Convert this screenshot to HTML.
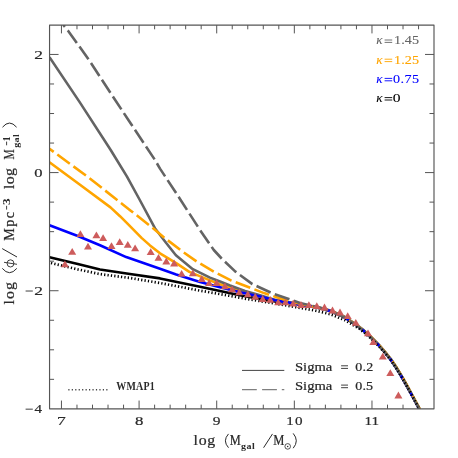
<!DOCTYPE html><html><head><meta charset="utf-8"><style>html,body{margin:0;padding:0;background:#fff}svg{display:block;will-change:transform}text{font-family:"Liberation Serif",serif;fill:#222}.s{font-family:"Liberation Sans",sans-serif}</style></head><body>
<svg width="458" height="458" viewBox="0 0 458 458">
<rect width="458" height="458" fill="#fff"/>
<defs><clipPath id="c"><rect x="49.5" y="25.0" width="384.5" height="384.0"/></clipPath></defs>
<g clip-path="url(#c)" fill="none" stroke-linejoin="round">
<path d="M49.5,257.2 L77.8,264.1 L100.0,269.5 L130.0,274.0 L160.0,278.4 L200.0,286.7 L220.0,290.9 L240.0,295.2 L260.0,299.0 L275.0,301.5 L290.0,302.9 L300.0,304.6 L310.0,306.2 L320.0,308.2 L330.0,311.0 L340.0,315.0 L345.0,317.6 L350.0,321.0 L357.0,325.8 L363.3,330.5 L370.0,336.5 L379.0,345.5 L385.0,352.5 L390.6,359.5 L396.0,367.5 L401.2,376.0 L406.0,384.5 L411.2,394.0 L415.5,402.0 L419.3,409.0" stroke="#000000" stroke-width="2.6"/>
<path d="M49.5,162.3 L80.0,184.7 L110.5,207.4 L120.0,216.2 L127.5,223.7 L141.8,238.1 L150.0,245.4 L160.0,253.3 L176.2,263.2 L189.3,271.9 L210.0,280.4 L220.0,284.3 L240.0,290.5 L260.0,296.2 L275.4,300.3 L290.4,302.9 L300.4,304.6 L310.4,306.2 L320.4,308.2 L330.4,311.0 L340.4,315.0 L345.4,317.6 L350.4,321.0 L357.4,325.8 L363.7,330.5 L370.4,336.5 L379.4,345.5 L385.4,352.5 L391.0,359.5 L396.4,367.5 L401.6,376.0 L406.4,384.5 L411.6,394.0 L415.9,402.0 L419.7,409.0" stroke="#ffa500" stroke-width="2.6"/>
<path d="M49.5,57.1 L80.0,102.6 L110.7,150.0 L127.0,176.6 L139.8,200.0 L154.9,228.2 L166.0,242.8 L175.9,255.2 L192.8,269.2 L210.0,277.6 L220.0,281.5 L230.0,285.5 L245.0,291.0 L260.0,295.2 L275.3,299.9 L290.3,302.5 L300.3,304.2 L310.3,305.8 L320.3,307.8 L330.3,310.6 L340.3,314.6 L345.3,317.2 L350.3,320.6 L357.3,325.4 L363.6,330.1 L370.3,336.1 L379.3,345.1 L385.3,352.1 L390.9,359.1 L396.3,367.1 L401.5,375.6 L406.3,384.1 L411.5,393.6 L415.8,401.6 L419.6,408.6" stroke="#646464" stroke-width="2.6"/>
<path d="M49.5,225.2 L77.8,236.0 L100.0,245.3 L126.2,257.1 L160.0,268.7 L176.2,274.5 L200.0,282.0 L220.0,287.2 L240.0,292.2 L260.0,296.6 L274.9,300.3 L289.9,302.9 L299.9,304.6 L309.9,306.2 L319.9,308.2 L329.9,311.0 L339.9,315.0 L344.9,317.6 L349.9,321.0 L356.9,325.8 L363.2,330.5 L369.9,336.5 L378.9,345.5 L384.9,352.5 L390.5,359.5 L395.9,367.5 L401.1,376.0 L405.9,384.5 L411.1,394.0 L415.4,402.0 L419.2,409.0" stroke="#0000ff" stroke-width="2.6"/>
<path d="M49.5,148.8 L88.7,177.6 L122.2,203.9 L130.4,210.4 L152.8,228.0 L164.4,237.7 L180.8,250.3 L196.5,261.4 L213.8,271.6 L231.4,280.6 L250.4,287.8 L264.0,293.1 L279.0,298.0 L290.0,301.3 L300.0,303.8 L310.4,306.2 L320.4,308.2 L330.4,311.0 L340.4,315.0 L345.4,317.6 L350.4,321.0 L357.4,325.8 L363.7,330.5 L370.4,336.5 L379.4,345.5 L385.4,352.5 L391.0,359.5 L396.4,367.5 L401.6,376.0 L406.4,384.5 L411.6,394.0 L415.9,402.0 L419.7,409.0" stroke="#ffa500" stroke-width="2.6" stroke-dasharray="15.5 4.5" stroke-dashoffset="10.3"/>
<path d="M63.3,25.0 L68.2,30.9 L88.9,59.8 L108.6,90.0 L128.4,120.0 L155.0,160.0 L160.0,168.6 L180.0,199.0 L200.0,230.0 L213.8,250.0 L221.6,258.5 L235.4,271.6 L252.4,284.1 L265.2,290.0 L274.0,294.0 L288.8,299.0 L300.0,302.9 L310.0,305.4 L320.0,307.8 L330.0,311.0 L340.0,315.0 L345.0,317.6 L350.0,321.0 L357.0,325.8 L363.3,330.5 L370.0,336.5 L379.0,345.5 L385.0,352.5 L390.6,359.5 L396.0,367.5 L401.2,376.0 L406.0,384.5 L411.2,394.0 L415.5,402.0 L419.3,409.0" stroke="#646464" stroke-width="2.6" stroke-dasharray="15.5 4.5" stroke-dashoffset="13.0"/>
<path d="M51.0,263.0 L77.8,269.4 L100.0,274.1 L130.0,278.0 L160.0,283.0 L200.0,290.6 L220.0,294.1 L250.0,299.5 L275.0,303.5 L300.0,307.9 L315.0,310.5 L330.1,314.2 L345.0,320.2 L360.0,329.2 L370.0,337.5 L379.0,346.3 L385.0,353.0 L390.6,359.8 L396.0,367.7 L401.2,376.1 L406.0,384.6 L411.2,394.1 L415.5,402.1 L419.2,409.0" stroke="#000000" stroke-width="2.7" stroke-dasharray="1.25 2.15"/>
</g>
<path d="M64.9,260.4 L68.9,267.2 L60.9,267.2Z" fill="#cd5c5c"/>
<path d="M72.2,247.9 L76.2,254.7 L68.2,254.7Z" fill="#cd5c5c"/>
<path d="M80.4,230.2 L84.4,237.0 L76.4,237.0Z" fill="#cd5c5c"/>
<path d="M88.0,242.7 L92.0,249.5 L84.0,249.5Z" fill="#cd5c5c"/>
<path d="M96.4,231.5 L100.4,238.3 L92.4,238.3Z" fill="#cd5c5c"/>
<path d="M103.1,234.2 L107.1,241.0 L99.1,241.0Z" fill="#cd5c5c"/>
<path d="M111.5,242.2 L115.5,249.0 L107.5,249.0Z" fill="#cd5c5c"/>
<path d="M119.7,238.3 L123.7,245.1 L115.7,245.1Z" fill="#cd5c5c"/>
<path d="M127.8,240.9 L131.8,247.7 L123.8,247.7Z" fill="#cd5c5c"/>
<path d="M135.1,244.4 L139.1,251.2 L131.1,251.2Z" fill="#cd5c5c"/>
<path d="M150.7,248.3 L154.7,255.1 L146.7,255.1Z" fill="#cd5c5c"/>
<path d="M158.5,254.0 L162.5,260.8 L154.5,260.8Z" fill="#cd5c5c"/>
<path d="M166.3,257.6 L170.3,264.4 L162.3,264.4Z" fill="#cd5c5c"/>
<path d="M174.1,259.6 L178.1,266.4 L170.1,266.4Z" fill="#cd5c5c"/>
<path d="M181.6,270.0 L185.6,276.8 L177.6,276.8Z" fill="#cd5c5c"/>
<path d="M192.8,269.4 L196.8,276.2 L188.8,276.2Z" fill="#cd5c5c"/>
<path d="M201.7,275.3 L205.7,282.1 L197.7,282.1Z" fill="#cd5c5c"/>
<path d="M209.1,279.2 L213.1,286.0 L205.1,286.0Z" fill="#cd5c5c"/>
<path d="M216.6,279.2 L220.6,286.0 L212.6,286.0Z" fill="#cd5c5c"/>
<path d="M224.9,282.5 L228.9,289.3 L220.9,289.3Z" fill="#cd5c5c"/>
<path d="M232.1,285.4 L236.1,292.2 L228.1,292.2Z" fill="#cd5c5c"/>
<path d="M239.3,288.4 L243.3,295.2 L235.3,295.2Z" fill="#cd5c5c"/>
<path d="M247.8,290.4 L251.8,297.2 L243.8,297.2Z" fill="#cd5c5c"/>
<path d="M255.2,293.0 L259.2,299.8 L251.2,299.8Z" fill="#cd5c5c"/>
<path d="M262.7,295.1 L266.7,301.9 L258.7,301.9Z" fill="#cd5c5c"/>
<path d="M270.3,296.0 L274.3,302.8 L266.3,302.8Z" fill="#cd5c5c"/>
<path d="M278.2,298.4 L282.2,305.2 L274.2,305.2Z" fill="#cd5c5c"/>
<path d="M285.4,298.5 L289.4,305.3 L281.4,305.3Z" fill="#cd5c5c"/>
<path d="M293.2,299.8 L297.2,306.6 L289.2,306.6Z" fill="#cd5c5c"/>
<path d="M301.0,301.1 L305.0,307.9 L297.0,307.9Z" fill="#cd5c5c"/>
<path d="M308.9,301.3 L312.9,308.1 L304.9,308.1Z" fill="#cd5c5c"/>
<path d="M316.8,302.3 L320.8,309.1 L312.8,309.1Z" fill="#cd5c5c"/>
<path d="M324.5,303.6 L328.5,310.4 L320.5,310.4Z" fill="#cd5c5c"/>
<path d="M332.5,306.6 L336.5,313.4 L328.5,313.4Z" fill="#cd5c5c"/>
<path d="M340.0,308.6 L344.0,315.4 L336.0,315.4Z" fill="#cd5c5c"/>
<path d="M347.7,312.2 L351.7,319.0 L343.7,319.0Z" fill="#cd5c5c"/>
<path d="M355.8,318.9 L359.8,325.7 L351.8,325.7Z" fill="#cd5c5c"/>
<path d="M368.0,329.4 L372.0,336.2 L364.0,336.2Z" fill="#cd5c5c"/>
<path d="M373.3,338.3 L377.3,345.1 L369.3,345.1Z" fill="#cd5c5c"/>
<path d="M382.8,352.7 L386.8,359.5 L378.8,359.5Z" fill="#cd5c5c"/>
<path d="M390.3,369.3 L394.3,376.1 L386.3,376.1Z" fill="#cd5c5c"/>
<path d="M398.4,391.6 L402.4,398.4 L394.4,398.4Z" fill="#cd5c5c"/>
<g stroke="#555555" fill="none">
<rect x="49.55" y="25.1" width="384.45" height="383.75" stroke-width="1.15" stroke-linejoin="round"/>
<path d="M61.45,25.1v8.3M61.45,408.85v-8.3M76.98,25.1v4.2M76.98,408.85v-4.2M92.50,25.1v4.2M92.50,408.85v-4.2M108.03,25.1v4.2M108.03,408.85v-4.2M123.55,25.1v4.2M123.55,408.85v-4.2M139.08,25.1v8.3M139.08,408.85v-8.3M154.61,25.1v4.2M154.61,408.85v-4.2M170.13,25.1v4.2M170.13,408.85v-4.2M185.66,25.1v4.2M185.66,408.85v-4.2M201.18,25.1v4.2M201.18,408.85v-4.2M216.71,25.1v8.3M216.71,408.85v-8.3M232.24,25.1v4.2M232.24,408.85v-4.2M247.76,25.1v4.2M247.76,408.85v-4.2M263.29,25.1v4.2M263.29,408.85v-4.2M278.81,25.1v4.2M278.81,408.85v-4.2M294.34,25.1v8.3M294.34,408.85v-8.3M309.87,25.1v4.2M309.87,408.85v-4.2M325.39,25.1v4.2M325.39,408.85v-4.2M340.92,25.1v4.2M340.92,408.85v-4.2M356.44,25.1v4.2M356.44,408.85v-4.2M371.97,25.1v8.3M371.97,408.85v-8.3M387.50,25.1v4.2M387.50,408.85v-4.2M403.02,25.1v4.2M403.02,408.85v-4.2M418.55,25.1v4.2M418.55,408.85v-4.2M49.55,379.33h4.5M434.0,379.33h-4.5M49.55,349.80h4.5M434.0,349.80h-4.5M49.55,320.26h4.5M434.0,320.26h-4.5M49.55,290.73h9.0M434.0,290.73h-9.0M49.55,261.19h4.5M434.0,261.19h-4.5M49.55,231.66h4.5M434.0,231.66h-4.5M49.55,202.12h4.5M434.0,202.12h-4.5M49.55,172.59h9.0M434.0,172.59h-9.0M49.55,143.06h4.5M434.0,143.06h-4.5M49.55,113.52h4.5M434.0,113.52h-4.5M49.55,83.98h4.5M434.0,83.98h-4.5M49.55,54.45h9.0M434.0,54.45h-9.0" stroke-width="1"/>
</g>
<text transform="translate(58.20,424.80) scale(1.2977,1)" x="-0.890" y="0" font-size="13.5" style="font-family:&quot;Liberation Serif&quot;;fill:#2a2a2a;stroke:#2a2a2a;stroke-width:0.22">7</text>
<text transform="translate(135.60,424.80) scale(1.2409,1)" x="-0.514" y="0" font-size="13.5" style="font-family:&quot;Liberation Serif&quot;;fill:#2a2a2a;stroke:#2a2a2a;stroke-width:0.22">8</text>
<text transform="translate(213.30,424.80) scale(1.1456,1)" x="-0.435" y="0" font-size="13.5" style="font-family:&quot;Liberation Serif&quot;;fill:#2a2a2a;stroke:#2a2a2a;stroke-width:0.22">9</text>
<text transform="translate(287.60,424.80) scale(1.1200,1)" x="-1.187" y="0" font-size="13.5" letter-spacing="0.969" style="font-family:&quot;Liberation Serif&quot;;fill:#2a2a2a;stroke:#2a2a2a;stroke-width:0.22">10</text>
<text transform="translate(365.70,424.80) scale(1.1200,1)" x="-1.187" y="0" font-size="13.5" letter-spacing="0.015" style="font-family:&quot;Liberation Serif&quot;;fill:#2a2a2a;stroke:#2a2a2a;stroke-width:0.22">11</text>
<text transform="translate(34.90,58.90) scale(1.2935,1)" x="-0.593" y="0" font-size="13.5" style="font-family:&quot;Liberation Serif&quot;;fill:#2a2a2a;stroke:#2a2a2a;stroke-width:0.22">2</text>
<text transform="translate(34.90,177.04) scale(1.2234,1)" x="-0.514" y="0" font-size="13.5" style="font-family:&quot;Liberation Serif&quot;;fill:#2a2a2a;stroke:#2a2a2a;stroke-width:0.22">0</text>
<text transform="translate(34.90,295.18) scale(1.2935,1)" x="-0.593" y="0" font-size="13.5" style="font-family:&quot;Liberation Serif&quot;;fill:#2a2a2a;stroke:#2a2a2a;stroke-width:0.22">2</text>
<path d="M25.6,291.03000000000003L32.8,291.03000000000003" stroke="#2a2a2a" stroke-width="0.9" fill="none"/>
<text transform="translate(34.90,413.32) scale(1.1155,1)" x="-0.264" y="0" font-size="13.5" style="font-family:&quot;Liberation Serif&quot;;fill:#2a2a2a;stroke:#2a2a2a;stroke-width:0.22">4</text>
<path d="M25.6,409.17L32.8,409.17" stroke="#2a2a2a" stroke-width="0.9" fill="none"/>
<text transform="translate(193.90,444.80) scale(1.1000,1)" x="-0.288" y="0" font-size="14.4" letter-spacing="0.626" style="font-family:&quot;Liberation Serif&quot;;fill:#2a2a2a;stroke:#2a2a2a;stroke-width:0.22">log</text>
<path d="M228.5,433.9Q222.3,440.79999999999995 228.5,447.7" stroke="#2a2a2a" stroke-width="1.0" fill="none"/>
<text transform="translate(230.10,444.80) scale(0.8728,1)" x="-0.409" y="0" font-size="14.2" style="font-family:&quot;Liberation Serif&quot;;fill:#2a2a2a;stroke:#2a2a2a;stroke-width:0.22">M</text>
<text transform="translate(241.30,449.00) scale(1.2200,1)" x="-0.216" y="0" font-size="8.2" font-weight="bold" letter-spacing="0.431" style="font-family:&quot;Liberation Serif&quot;;fill:#2a2a2a">gal</text>
<path d="M263.6,447.7L272.5,433.9" stroke="#2a2a2a" stroke-width="1.0" fill="none"/>
<text transform="translate(273.50,444.80) scale(0.8813,1)" x="-0.409" y="0" font-size="14.2" style="font-family:&quot;Liberation Serif&quot;;fill:#2a2a2a;stroke:#2a2a2a;stroke-width:0.22">M</text>
<circle cx="287.7" cy="446.4" r="2.8" fill="none" stroke="#2a2a2a" stroke-width="0.8"/><circle cx="287.7" cy="446.4" r="0.75" fill="#2a2a2a"/>
<path d="M293.2,433.4Q299.40000000000003,440.79999999999995 293.2,448.2" stroke="#2a2a2a" stroke-width="1.0" fill="none"/>
<text transform="translate(13.80,304.30) rotate(-90) scale(1.1000,1)" x="-0.288" y="0" font-size="14.4" letter-spacing="1.035" style="font-family:&quot;Liberation Serif&quot;;fill:#2a2a2a;stroke:#2a2a2a;stroke-width:0.22">log</text>
<path d="M2.3,268.4Q9.5,277.0 16.8,268.4" transform="translate(0,0)" stroke="#2a2a2a" stroke-width="1" fill="none"/>
<ellipse cx="10.5" cy="263.4" rx="3.4" ry="3.6" fill="none" stroke="#2a2a2a" stroke-width="0.9"/>
<path d="M17.0,264.3L4.0,262.3" stroke="#2a2a2a" stroke-width="0.9" fill="none"/>
<path d="M17.0,257.0L2.2,248.6" stroke="#2a2a2a" stroke-width="1.0" fill="none"/>
<text transform="translate(13.80,240.40) rotate(-90) scale(1.0000,1)" x="-0.409" y="0" font-size="14.2" letter-spacing="1.459" style="font-family:&quot;Liberation Serif&quot;;fill:#2a2a2a;stroke:#2a2a2a;stroke-width:0.22">Mpc</text>
<path d="M6.6,209.6L6.6,205.8" stroke="#2a2a2a" stroke-width="0.9" fill="none"/>
<text transform="translate(9.80,204.40) rotate(-90) scale(1.3582,1)" x="-0.368" y="0" font-size="9.8" font-weight="bold" style="font-family:&quot;Liberation Serif&quot;;fill:#2a2a2a">3</text>
<text transform="translate(13.80,188.60) rotate(-90) scale(1.1000,1)" x="-0.288" y="0" font-size="14.4" letter-spacing="0.217" style="font-family:&quot;Liberation Serif&quot;;fill:#2a2a2a;stroke:#2a2a2a;stroke-width:0.22">log</text>
<text transform="translate(13.80,159.30) rotate(-90) scale(0.8050,1)" x="-0.409" y="0" font-size="14.2" style="font-family:&quot;Liberation Serif&quot;;fill:#2a2a2a;stroke:#2a2a2a;stroke-width:0.22">M</text>
<text transform="translate(18.70,147.60) rotate(-90) scale(1.2200,1)" x="-0.216" y="0" font-size="8.2" font-weight="bold" letter-spacing="0.308" style="font-family:&quot;Liberation Serif&quot;;fill:#2a2a2a">gal</text>
<path d="M6.6,145.3L6.6,141.6" stroke="#2a2a2a" stroke-width="0.9" fill="none"/>
<text transform="translate(9.80,140.40) rotate(-90) scale(0.9701,1)" x="-0.785" y="0" font-size="9.8" font-weight="bold" style="font-family:&quot;Liberation Serif&quot;;fill:#2a2a2a">1</text>
<path d="M2.5,127.2Q9.5,118.9 16.6,127.2" stroke="#2a2a2a" stroke-width="1" fill="none"/>
<text transform="translate(376.80,44.40) scale(1.1011,1)" x="-0.439" y="0" font-size="12.0" font-style="italic" style="font-family:&quot;Liberation Serif&quot;;fill:#646464;stroke:#646464;stroke-width:0.1">κ</text>
<path d="M384.6,40.0H392.2M384.6,42.4H392.2" stroke="#646464" stroke-width="0.9" fill="none"/>
<text transform="translate(395.30,44.40) scale(1.2000,1)" x="-1.037" y="0" font-size="11.8" letter-spacing="0.060" style="font-family:&quot;Liberation Serif&quot;;fill:#646464;stroke:#646464;stroke-width:0.1">1.45</text>
<text transform="translate(376.80,63.60) scale(1.1011,1)" x="-0.439" y="0" font-size="12.0" font-style="italic" style="font-family:&quot;Liberation Serif&quot;;fill:#ffa500;stroke:#ffa500;stroke-width:0.1">κ</text>
<path d="M384.6,59.2H392.2M384.6,61.6H392.2" stroke="#ffa500" stroke-width="0.9" fill="none"/>
<text transform="translate(395.30,63.60) scale(1.2000,1)" x="-1.037" y="0" font-size="11.8" letter-spacing="0.060" style="font-family:&quot;Liberation Serif&quot;;fill:#ffa500;stroke:#ffa500;stroke-width:0.1">1.25</text>
<text transform="translate(376.80,82.80) scale(1.1011,1)" x="-0.439" y="0" font-size="12.0" font-style="italic" style="font-family:&quot;Liberation Serif&quot;;fill:#0000ff;stroke:#0000ff;stroke-width:0.1">κ</text>
<path d="M384.6,78.4H392.2M384.6,80.8H392.2" stroke="#0000ff" stroke-width="0.9" fill="none"/>
<text transform="translate(393.60,82.80) scale(1.2000,1)" x="-0.449" y="0" font-size="11.8" letter-spacing="0.337" style="font-family:&quot;Liberation Serif&quot;;fill:#0000ff;stroke:#0000ff;stroke-width:0.1">0.75</text>
<text transform="translate(376.80,102.00) scale(1.1011,1)" x="-0.439" y="0" font-size="12.0" font-style="italic" style="font-family:&quot;Liberation Serif&quot;;fill:#000000;stroke:#000000;stroke-width:0.1">κ</text>
<path d="M384.6,97.6H392.2M384.6,100.0H392.2" stroke="#000000" stroke-width="0.9" fill="none"/>
<text transform="translate(393.40,102.00) scale(1.3197,1)" x="-0.449" y="0" font-size="11.8" style="font-family:&quot;Liberation Serif&quot;;fill:#000000;stroke:#000000;stroke-width:0.1">0</text>
<path d="M242,370.4H284.3" stroke="#444" stroke-width="1"/>
<path d="M242,389.6H256.8M262.1,389.6H276.9M281.8,389.6H284.3" stroke="#808080" stroke-width="1.35"/>
<text transform="translate(295.90,370.70) scale(1.1600,1)" x="-0.843" y="0" font-size="12.6" letter-spacing="0.027" style="font-family:&quot;Liberation Serif&quot;;fill:#2a2a2a;stroke:#2a2a2a;stroke-width:0.22">Sigma</text>
<path d="M341.1,365.8H348M341.1,368.4H348" stroke="#2a2a2a" stroke-width="0.9" fill="none"/>
<text transform="translate(355.80,370.70) scale(1.1500,1)" x="-0.465" y="0" font-size="12.2" letter-spacing="0.205" style="font-family:&quot;Liberation Serif&quot;;fill:#2a2a2a;stroke:#2a2a2a;stroke-width:0.22">0.2</text>
<text transform="translate(295.90,390.00) scale(1.1600,1)" x="-0.843" y="0" font-size="12.6" letter-spacing="0.027" style="font-family:&quot;Liberation Serif&quot;;fill:#2a2a2a;stroke:#2a2a2a;stroke-width:0.22">Sigma</text>
<path d="M341.1,385.1H348M341.1,387.7H348" stroke="#2a2a2a" stroke-width="0.9" fill="none"/>
<text transform="translate(355.80,390.00) scale(1.1500,1)" x="-0.465" y="0" font-size="12.2" letter-spacing="0.106" style="font-family:&quot;Liberation Serif&quot;;fill:#2a2a2a;stroke:#2a2a2a;stroke-width:0.22">0.5</text>
<path d="M68.3,389.7H108.2" stroke="#444" stroke-width="1.5" stroke-dasharray="1.2 2.25"/>
<text transform="translate(116.50,389.80) scale(0.8600,1)" x="-0.164" y="0" font-size="11.6" font-weight="bold" letter-spacing="0.227" style="font-family:&quot;Liberation Serif&quot;;fill:#2a2a2a">WMAP1</text>
</svg></body></html>
